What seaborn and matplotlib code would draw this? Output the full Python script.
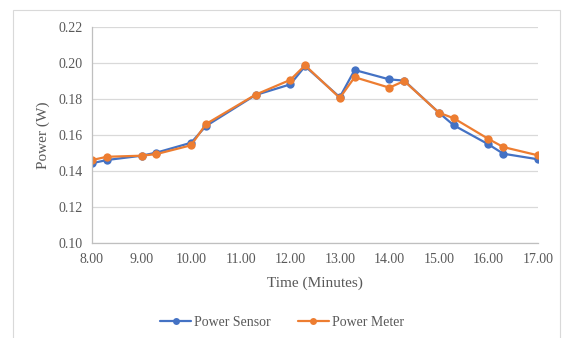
import matplotlib
matplotlib.use("Agg")
import matplotlib.pyplot as plt
import seaborn as sns
import pandas as pd
from matplotlib.patches import Rectangle
from matplotlib.ticker import FormatStrFormatter

time = [8.0, 8.3, 9.0, 9.3, 10.0, 10.3, 11.3, 12.0, 12.3, 13.0, 13.3, 14.0, 14.3, 15.0, 15.3, 16.0, 16.3, 17.0]
power_sensor = [0.1443, 0.1461, 0.1485, 0.1502, 0.1557, 0.1650, 0.1822, 0.1881, 0.1982, 0.1810,
                0.1961, 0.1909, 0.1902, 0.1724, 0.1654, 0.1548, 0.1496, 0.1465]
power_meter = [0.1461, 0.1479, 0.1485, 0.1494, 0.1543, 0.1661, 0.1824, 0.1906, 0.1987, 0.1806,
               0.1921, 0.1863, 0.1900, 0.1724, 0.1693, 0.1578, 0.1533, 0.1487]
series_names = ["Power Sensor", "Power Meter"]
colors = ["#4472C4", "#ED7D31"]

df = pd.concat([
    pd.DataFrame({"Time": time, "Power": power_sensor, "Series": series_names[0]}),
    pd.DataFrame({"Time": time, "Power": power_meter, "Series": series_names[1]}),
])

sns.set_theme(style="white")
plt.rcParams["font.family"] = ["Liberation Serif", "DejaVu Serif"]
text_color = "#595959"

fig = plt.figure(figsize=(5.64, 3.38), dpi=100)
fig.patches.append(Rectangle((13 / 564, -0.05), (560 - 13) / 564, 1.05 - 10 / 338,
                             transform=fig.transFigure, fill=False,
                             edgecolor="#d9d9d9", linewidth=0.8))
ax = fig.add_axes([92 / 564, 1 - 243 / 338, (538 - 92) / 564, (243 - 27) / 338])

sns.lineplot(data=df, x="Time", y="Power", hue="Series", hue_order=series_names,
             palette=colors, marker="o", markersize=6, markeredgewidth=0,
             linewidth=1.6, ax=ax, legend=False, sort=False)

ax.set_xlim(8.0, 17.0)
ax.set_ylim(0.10, 0.22)
ax.set_xticks([8, 9, 10, 11, 12, 13, 14, 15, 16, 17])
ax.set_yticks([0.10, 0.12, 0.14, 0.16, 0.18, 0.20, 0.22])
ax.xaxis.set_major_formatter(FormatStrFormatter("%.2f"))
ax.yaxis.set_major_formatter(FormatStrFormatter("%.2f"))
ax.yaxis.grid(True, color="#d9d9d9", linewidth=0.9)
ax.set_axisbelow(True)
for side in ["top", "right"]:
    ax.spines[side].set_visible(False)
for side in ["left", "bottom"]:
    ax.spines[side].set_color("#bfbfbf")
    ax.spines[side].set_linewidth(0.9)
ax.tick_params(axis="y", length=3, color="#bfbfbf", labelsize=10, labelcolor=text_color, pad=4)
ax.tick_params(axis="x", length=0, labelsize=10, labelcolor=text_color, pad=7)
ax.set_xlabel("Time (Minutes)", fontsize=11, color=text_color, labelpad=8)
ax.set_ylabel("Power (W)", fontsize=11, color=text_color, labelpad=6)

handles = [plt.Line2D([], [], color=c, marker="o", markersize=5, markeredgewidth=0, linewidth=1.6)
           for c in colors]
fig.legend(handles, series_names, loc="center", bbox_to_anchor=(0.5, 1 - 322 / 338),
           ncol=2, frameon=False, fontsize=10, labelcolor=text_color,
           handlelength=2.2, handletextpad=0.2, columnspacing=2.0)

fig.savefig("out.png", dpi=100)
